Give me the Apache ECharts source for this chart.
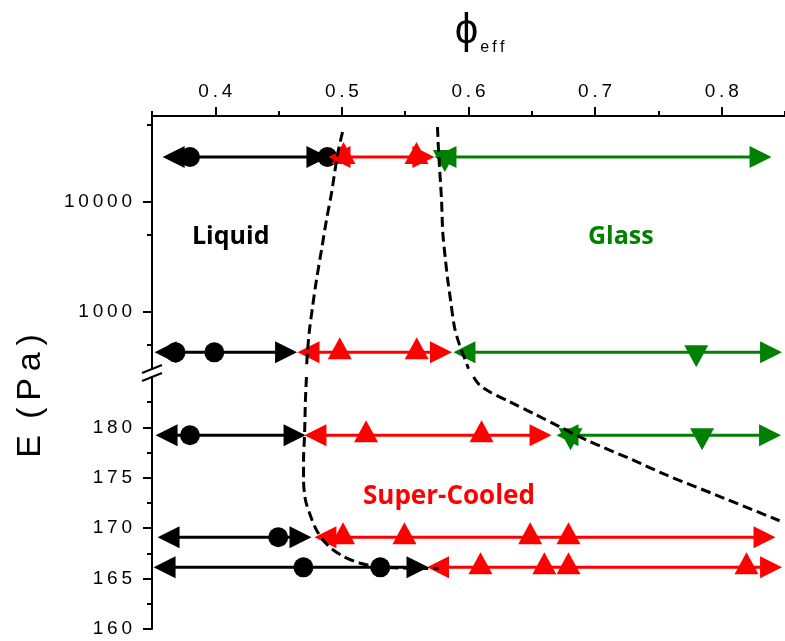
<!DOCTYPE html>
<html>
<head>
<meta charset="utf-8">
<script src="https://cdn.jsdelivr.net/npm/echarts@6/dist/echarts.min.js"></script>
<style>
  html, body { margin: 0; padding: 0; background: #fff; }
  #chart { width: 785px; height: 641px; }
</style>
</head>
<body>
<div id="chart"></div>
<script>
// modulus E (Pa) of each row: two rows on the log part, three on the linear part
const rowE = [25440, 425, 179.22, 169.1, 166.12];

// phi_eff of the arrow ends [left, right] and of the measured points, per row
const liquidEnds = [[0.3671, 0.4807], [0.3607, 0.4559], [0.3615, 0.4626], [0.3631, 0.4673], [0.3599, 0.5597]];
const liquidPts = [[0.3800, 0.4886], [0.3686, 0.3992], [0.3800], [0.4497], [0.4696, 0.5303]];
const coolEnds = [[0.4981, 0.5644], [0.4736, 0.5783], [0.4791, 0.6569], [0.4870, 0.8338], [0.5759, 0.8390]];
const coolPts = [[0.5013, 0.5589], [0.4983, 0.5591], [0.5191, 0.6103], [0.5009, 0.5494, 0.6487, 0.6790], [0.6095, 0.6599, 0.6790, 0.8196]];
const glassEnds = [[0.5818, 0.8307], [0.5968, 0.8390], [0.6782, 0.8382], null, null];
const glassPts = [[0.5813], [0.7799], [0.6806, 0.7845], [], []];

// dashed phase boundaries [phi, E]
const liqBoundHigh = [[0.5005, 42930], [0.4965, 26530], [0.4918, 11970], [0.4878, 6802], [0.4839, 3631],
  [0.4799, 1938], [0.4768, 1101], [0.4744, 680], [0.4728, 429], [0.4720, 301]];
const liqBoundLow = [[0.4720, 185], [0.4712, 182.72], [0.4705, 179.25], [0.4697, 176.77], [0.4697, 174.78],
  [0.4712, 172.8], [0.4744, 171.51], [0.4799, 169.82], [0.4886, 168.33], [0.5005, 167.24],
  [0.5139, 166.55], [0.5273, 166.2], [0.5455, 166.05], [0.5763, 166.0]];
const glassBoundHigh = [[0.5755, 47690], [0.5763, 29450], [0.5771, 20640], [0.5787, 10340], [0.5797, 5183],
  [0.5818, 2945], [0.5836, 1938], [0.5858, 1275], [0.5889, 724], [0.5929, 497], [0.5968, 379], [0.6000, 301]];
const glassBoundLow = [[0.6040, 185], [0.6087, 184.21], [0.6166, 183.54], [0.6324, 182.55], [0.6521, 181.33],
  [0.6719, 180.07], [0.6930, 178.75], [0.7298, 176.77], [0.7562, 175.28], [0.7957, 173.29], [0.8457, 170.74]];

// axis ticks
const phiTicks = [0.4, 0.5, 0.6, 0.7, 0.8];
const phiMinor = [0.35, 0.45, 0.55, 0.65, 0.75, 0.85];
const logTicks = [1000, 10000];
const logMinor = [500, 5000, 50000];
const linTicks = [160, 165, 170, 175, 180];
const linMinor = [162.5, 167.5, 172.5, 177.5, 182.5];

const FONT = "'Liberation Sans', Arial, sans-serif";
const sp = s => String(s).split('').join('\u2009');
const lg = Math.log10;

const chart = echarts.init(document.getElementById('chart'));

function phaseSeries(ends, pts, color, marker) {
  const out = [];
  ends.forEach((e, i) => {
    if (!e) return;
    const upper = i < 2;
    const y = upper ? lg(rowE[i]) : rowE[i];
    const items = [
      { value: [e[0], y], symbol: 'triangle', symbolRotate: 90, symbolSize: [22, 22] },
      ...pts[i].map(p => Object.assign({ value: [p, y] }, marker)),
      { value: [e[1], y], symbol: 'triangle', symbolRotate: -90, symbolSize: [22, 22] }
    ].sort((a, b) => a.value[0] - b.value[0]);
    out.push({
      type: 'line', xAxisIndex: upper ? 0 : 2, yAxisIndex: upper ? 0 : 2,
      data: items, showAllSymbol: true, clip: false, silent: true,
      lineStyle: { color, width: 3 }, itemStyle: { color, opacity: 1 }
    });
  });
  return out;
}

function boundary(pts, upper) {
  return {
    type: 'line', xAxisIndex: upper ? 0 : 2, yAxisIndex: upper ? 0 : 2,
    data: pts.map(p => [p[0], upper ? lg(p[1]) : p[1]]),
    symbol: 'none', smooth: 0.3, clip: false, silent: true, z: 5,
    lineStyle: { color: '#000', width: 3, type: [10, 5] }
  };
}

const tickLine = { lineStyle: { color: '#000', width: 2 } };
const labelFont = { fontSize: 19, color: '#000', fontFamily: FONT };

chart.setOption({
  animation: false,
  grid: [
    { left: 152, right: 0, top: 116, height: 253 },
    { left: 152, right: 0, top: 377, height: 252 }
  ],
  xAxis: [
    {
      gridIndex: 0, type: 'value', position: 'top', min: 0.35, max: 0.85,
      axisLine: { lineStyle: { color: '#000', width: 2 } },
      axisTick: Object.assign({ customValues: phiTicks, length: 9 }, tickLine),
      axisLabel: Object.assign({ customValues: phiTicks, formatter: v => sp(v.toFixed(1)), margin: 15 }, labelFont),
      splitLine: { show: false },
      name: '{phi|\u03D5}{sub|e\u2009f\u2009f}', nameLocation: 'middle', nameGap: 64,
      nameTextStyle: {
        padding: [0, 0, 0, 22],
        rich: {
          phi: { fontSize: 42, fontFamily: FONT, color: '#000', lineHeight: 44, verticalAlign: 'bottom' },
          sub: { fontSize: 16, fontFamily: FONT, color: '#000', lineHeight: 16, verticalAlign: 'bottom', padding: [0, 0, -4, 2] }
        }
      }
    },
    {
      gridIndex: 0, type: 'value', position: 'top', min: 0.35, max: 0.85,
      axisLine: { show: false },
      axisTick: Object.assign({ customValues: phiMinor, length: 5 }, tickLine),
      axisLabel: { show: false }, splitLine: { show: false }
    },
    { gridIndex: 1, type: 'value', min: 0.35, max: 0.85, show: false }
  ],
  yAxis: [
    {
      gridIndex: 0, type: 'value', position: 'left', min: lg(300), max: lg(60000),
      axisLine: { show: true, lineStyle: { color: '#000', width: 2 } },
      axisTick: Object.assign({ show: true, customValues: logTicks.map(lg), length: 9 }, tickLine),
      axisLabel: Object.assign({ customValues: logTicks.map(lg), formatter: v => sp(Math.round(Math.pow(10, v))), margin: 20 }, labelFont),
      splitLine: { show: false }
    },
    {
      gridIndex: 0, type: 'value', position: 'left', min: lg(300), max: lg(60000),
      axisLine: { show: false },
      axisTick: Object.assign({ show: true, customValues: logMinor.map(lg), length: 5 }, tickLine),
      axisLabel: { show: false }, splitLine: { show: false }
    },
    {
      gridIndex: 1, type: 'value', position: 'left', min: 160, max: 185,
      axisLine: { show: true, lineStyle: { color: '#000', width: 2 } },
      axisTick: Object.assign({ show: true, customValues: linTicks, length: 9 }, tickLine),
      axisLabel: Object.assign({ customValues: linTicks, formatter: v => sp(v), margin: 20 }, labelFont),
      splitLine: { show: false }
    },
    {
      gridIndex: 1, type: 'value', position: 'left', min: 160, max: 185,
      axisLine: { show: false },
      axisTick: Object.assign({ show: true, customValues: linMinor, length: 5 }, tickLine),
      axisLabel: { show: false }, splitLine: { show: false }
    }
  ],
  series: [
    ...phaseSeries(liquidEnds, liquidPts, '#000000', { symbol: 'circle', symbolSize: 20 }),
    ...phaseSeries(coolEnds, coolPts, '#ff0000', { symbol: 'triangle', symbolSize: [24, 22], symbolOffset: [0, -4] }),
    ...phaseSeries(glassEnds, glassPts, '#008000', { symbol: 'triangle', symbolRotate: 180, symbolSize: [24, 22], symbolOffset: [0, 4] }),
    boundary(liqBoundHigh, true),
    boundary(liqBoundLow, false),
    boundary(glassBoundHigh, true),
    boundary(glassBoundLow, false)
  ],
  graphic: [
    // axis break marks
    { type: 'line', shape: { x1: 142, y1: 373, x2: 162, y2: 365 }, style: { stroke: '#000', lineWidth: 2 } },
    { type: 'line', shape: { x1: 142, y1: 381, x2: 162, y2: 373 }, style: { stroke: '#000', lineWidth: 2 } },
    { type: 'text', x: 31, y: 396, rotation: Math.PI / 2,
      style: { text: 'E\u2009 (\u2009P\u2009a\u2009)', font: "34px 'Liberation Sans', Arial, sans-serif",
        fill: '#000', align: 'center', verticalAlign: 'middle' } },
    { type: 'text', x: 192, y: 237,
      style: { text: 'Liquid', font: "bold 25px 'Open Sans', sans-serif", fill: '#000', align: 'left', verticalAlign: 'middle' } },
    { type: 'text', x: 588, y: 237,
      style: { text: 'Glass', font: "bold 25px 'Open Sans', sans-serif", fill: '#008000', align: 'left', verticalAlign: 'middle' } },
    { type: 'text', x: 363, y: 497,
      style: { text: 'Super-Cooled', font: "bold 26px 'Open Sans', sans-serif", fill: '#ff0000', align: 'left', verticalAlign: 'middle' } }
  ]
});
</script>
</body>
</html>
